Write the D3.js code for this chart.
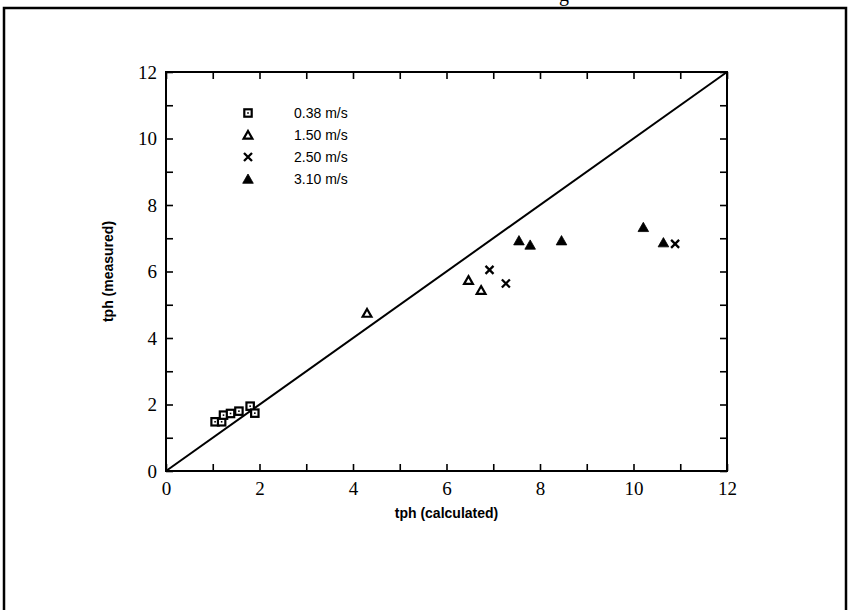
<!DOCTYPE html>
<html>
<head>
<meta charset="utf-8">
<script src="https://cdn.jsdelivr.net/npm/d3@7"></script>
<style>
  body { margin: 0; background: #fff; }
  svg { display: block; }
</style>
</head>
<body>
<div class="chart"></div>
<script>
// series
const seriesNames = ["0.38 m/s", "1.50 m/s", "2.50 m/s", "3.10 m/s"]
const sqCalc = [1.05, 1.19, 1.23, 1.38, 1.56, 1.80, 1.90]
const sqMeas = [1.48, 1.48, 1.68, 1.73, 1.80, 1.95, 1.74]
const openTriCalc = [4.30, 6.47, 6.74]
const openTriMeas = [4.75, 5.74, 5.44]
const crossCalc = [6.92, 7.27, 10.89]
const crossMeas = [6.05, 5.64, 6.83]
const fillTriCalc = [7.55, 7.79, 8.46, 10.21, 10.64]
const fillTriMeas = [6.93, 6.80, 6.93, 7.33, 6.87]
const tickValues = [0, 1, 2, 3, 4, 5, 6, 7, 8, 9, 10, 11, 12]
const axisDomain = [0, 12]

const W = 849, H = 610
const svg = d3.select('.chart')
    .append('svg')
    .attr('width', W)
    .attr('height', H)

svg.append('rect').attr('width', W).attr('height', H).attr('fill', '#fff')

// outer frame, bottom runs off the page
svg.append('rect')
    .attr('x', 4).attr('y', 8)
    .attr('width', 842).attr('height', 700)
    .attr('fill', 'none')
    .attr('stroke', '#000')
    .attr('stroke-width', 2.5)

// bit of a caption cut off at the top
svg.append('text')
    .attr('x', 564).attr('y', 1)
    .attr('text-anchor', 'middle')
    .attr('font-family', 'Liberation Serif, Times New Roman, serif')
    .attr('font-size', 20)
    .text('g')

const x = d3.scaleLinear().domain(axisDomain).range([166, 727])
const y = d3.scaleLinear().domain(axisDomain).range([471, 72])

const fmt = d => (d % 2 === 0 ? d : '')
const serif = 'Liberation Serif, Times New Roman, serif'

function styleAxis(g) {
    g.select('.domain').remove()
    g.selectAll('.tick line').attr('stroke', '#000').attr('stroke-width', 1.6)
    g.selectAll('.tick text')
        .attr('fill', '#000')
        .attr('font-family', serif)
        .attr('font-size', 19)
}

svg.append('g')
    .attr('transform', `translate(0,${y(0)})`)
    .call(d3.axisBottom(x).tickValues(tickValues).tickSizeInner(-7).tickSizeOuter(0).tickPadding(11).tickFormat(fmt))
    .call(styleAxis)

svg.append('g')
    .attr('transform', `translate(${x(0)},0)`)
    .call(d3.axisLeft(y).tickValues(tickValues).tickSizeInner(-7).tickSizeOuter(0).tickPadding(9).tickFormat(fmt))
    .call(styleAxis)

svg.append('g')
    .attr('transform', `translate(0,${y(12)})`)
    .call(d3.axisTop(x).tickValues(tickValues).tickSizeInner(-7).tickSizeOuter(0).tickFormat(''))
    .call(styleAxis)

svg.append('g')
    .attr('transform', `translate(${x(12)},0)`)
    .call(d3.axisRight(y).tickValues(tickValues).tickSizeInner(-7).tickSizeOuter(0).tickFormat(''))
    .call(styleAxis)

// plot box
svg.append('rect')
    .attr('x', x(0)).attr('y', y(12))
    .attr('width', x(12) - x(0)).attr('height', y(0) - y(12))
    .attr('fill', 'none')
    .attr('stroke', '#000')
    .attr('stroke-width', 2)

// 1:1 line
svg.append('line')
    .attr('x1', x(0)).attr('y1', y(0))
    .attr('x2', x(12)).attr('y2', y(12))
    .attr('stroke', '#000')
    .attr('stroke-width', 2)

// markers
function drawSquare(g) {
    g.append('rect').attr('x', -3.7).attr('y', -3.7).attr('width', 7.4).attr('height', 7.4)
        .attr('fill', '#fff').attr('stroke', '#000').attr('stroke-width', 2.2)
    g.append('rect').attr('x', -0.8).attr('y', -0.8).attr('width', 1.6).attr('height', 1.6)
        .attr('fill', '#000')
}
function drawOpenTri(g) {
    g.append('path').attr('d', 'M0,-4 L4.4,3.7 L-4.4,3.7 Z')
        .attr('fill', '#fff').attr('stroke', '#000').attr('stroke-width', 2.2)
}
function drawCross(g) {
    g.append('path').attr('d', 'M-4,-4 L4,4 M-4,4 L4,-4')
        .attr('fill', 'none').attr('stroke', '#000').attr('stroke-width', 2.3)
}
function drawFillTri(g) {
    g.append('path').attr('d', 'M0,-5 L5.3,4.3 L-5.3,4.3 Z')
        .attr('fill', '#000').attr('stroke', '#000').attr('stroke-width', 0.8)
}

const series = [
    { xs: sqCalc, ys: sqMeas, draw: drawSquare },
    { xs: openTriCalc, ys: openTriMeas, draw: drawOpenTri },
    { xs: crossCalc, ys: crossMeas, draw: drawCross },
    { xs: fillTriCalc, ys: fillTriMeas, draw: drawFillTri }
]

series.forEach(s => {
    s.xs.forEach((v, i) => {
        const g = svg.append('g').attr('transform', `translate(${x(v)},${y(s.ys[i])})`)
        s.draw(g)
    })
})

// legend
const legend = svg.append('g')
seriesNames.forEach((name, i) => {
    const ly = 113 + i * 22
    const g = legend.append('g').attr('transform', `translate(248,${ly})`)
    series[i].draw(g)
    legend.append('text')
        .attr('x', 294).attr('y', ly)
        .attr('dominant-baseline', 'central')
        .attr('font-family', 'Liberation Sans, Arial, sans-serif')
        .attr('font-size', 14)
        .attr('fill', '#000')
        .text(name)
})

// axis titles
svg.append('text')
    .attr('x', (x(0) + x(12)) / 2).attr('y', 513)
    .attr('text-anchor', 'middle')
    .attr('dominant-baseline', 'central')
    .attr('font-family', 'Liberation Sans, Arial, sans-serif')
    .attr('font-weight', 'bold')
    .attr('font-size', 14)
    .text('tph (calculated)')

svg.append('text')
    .attr('transform', `translate(108,${(y(0) + y(12)) / 2}) rotate(-90)`)
    .attr('text-anchor', 'middle')
    .attr('dominant-baseline', 'central')
    .attr('font-family', 'Liberation Sans, Arial, sans-serif')
    .attr('font-weight', 'bold')
    .attr('font-size', 14)
    .text('tph (measured)')
</script>
</body>
</html>
